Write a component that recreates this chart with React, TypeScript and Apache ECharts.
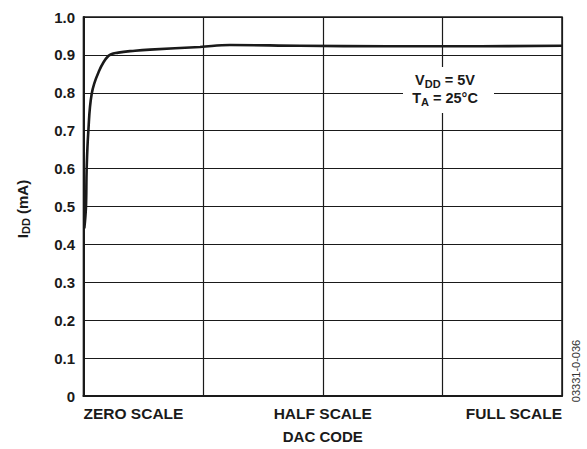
import React, { useEffect, useRef } from "react";
import * as echarts from "echarts";

const dacCodes = [7, 21, 27, 41, 70, 127, 212, 298, 441, 569, 997, 1254, 1853, 2600, 3400, 4096];
const iddValues = [0.442, 0.498, 0.598, 0.697, 0.797, 0.853, 0.897, 0.906, 0.911, 0.914, 0.921, 0.926, 0.924, 0.923, 0.923, 0.924];
const xTickLabels: Record<number, string> = { 0: "ZERO SCALE", 2048: "HALF SCALE", 4096: "FULL SCALE" };
const yTicks = [0, 0.1, 0.2, 0.3, 0.4, 0.5, 0.6, 0.7, 0.8, 0.9, 1.0];

const FONT = "'Liberation Sans', Arial, Helvetica, sans-serif";
const INK = "#1a1a1a";

export default function App() {
  const ref = useRef<HTMLDivElement>(null);
  useEffect(() => {
    if (!ref.current) return;
    const chart = echarts.init(ref.current, undefined, { renderer: "svg" });
    chart.setOption({
      animation: false,
      backgroundColor: "#fff",
      textStyle: { fontFamily: FONT },
      grid: {
        left: 83.5,
        width: 478.5,
        top: 17,
        height: 384.5,
        show: true,
        borderColor: INK,
        borderWidth: 1.5,
        backgroundColor: "transparent",
      },
      xAxis: {
        type: "value",
        min: 0,
        max: 4096,
        interval: 1024,
        axisLine: { show: true, lineStyle: { color: INK, width: 2 } },
        axisTick: { show: false },
        splitLine: { show: true, lineStyle: { color: INK, width: 1.2 } },
        axisLabel: {
          show: true,
          formatter: (v: number) => xTickLabels[v] ?? "",
          color: INK,
          fontWeight: "bold",
          fontSize: 15.5,
          fontFamily: FONT,
          margin: 9,
          alignMinLabel: "left",
          alignMaxLabel: "right",
        },
        name: "DAC CODE",
        nameLocation: "middle",
        nameGap: 33,
        nameTextStyle: { color: INK, fontWeight: "bold", fontSize: 15, fontFamily: FONT },
      },
      yAxis: {
        type: "value",
        min: 0,
        max: 1.0,
        interval: 0.1,
        axisLine: { show: true, lineStyle: { color: INK, width: 2 } },
        axisTick: { show: false },
        splitLine: { show: true, lineStyle: { color: INK, width: 1.2 } },
        axisLabel: {
          color: INK,
          fontWeight: "bold",
          fontSize: 15,
          fontFamily: FONT,
          margin: 8.5,
          formatter: (v: number) => {
            const t = yTicks.find((y) => Math.abs(y - v) < 1e-6);
            if (t === undefined) return "";
            return t === 0 ? "0" : t.toFixed(1);
          },
        },
      },
      series: [
        {
          type: "line",
          data: dacCodes.map((c, i) => [c, iddValues[i]]),
          smooth: 0.4,
          showSymbol: false,
          lineStyle: { color: INK, width: 2.6 },
          z: 5,
        },
      ],
      graphic: [
        {
          type: "rect",
          shape: { x: 403, y: 67, width: 91, height: 46 },
          style: { fill: "#fff" },
          z: 10,
        },
        {
          type: "text",
          x: 445,
          y: 89,
          z: 11,
          style: {
            text: "{n|V}{s|DD}{n| = 5V}\n{n|T}{s|A}{n| = 25°C}",
            align: "center",
            verticalAlign: "middle",
            fill: INK,
            lineHeight: 18,
            rich: {
              n: { fontSize: 14.5, fontWeight: "bold", fontFamily: FONT, fill: INK, lineHeight: 18 },
              s: { fontSize: 11, fontWeight: "bold", fontFamily: FONT, fill: INK, padding: [7, 0, 0, 0], lineHeight: 18 },
            },
          },
        },
        {
          type: "text",
          x: 22,
          y: 209,
          rotation: Math.PI / 2,
          z: 11,
          style: {
            text: "{n|I}{s|DD}{n| (mA)}",
            align: "center",
            verticalAlign: "middle",
            fill: INK,
            rich: {
              n: { fontSize: 15, fontWeight: "bold", fontFamily: FONT, fill: INK },
              s: { fontSize: 11, fontWeight: "bold", fontFamily: FONT, fill: INK, padding: [7, 0, 0, 0] },
            },
          },
        },
        {
          type: "text",
          x: 576,
          y: 371,
          rotation: Math.PI / 2,
          z: 11,
          style: {
            text: "03331-0-036",
            align: "center",
            verticalAlign: "middle",
            fill: "#333",
            fontSize: 11,
            fontFamily: FONT,
          },
        },
      ],
    });
    return () => chart.dispose();
  }, []);
  return <div ref={ref} style={{ width: 587, height: 449, position: "absolute", left: 0, top: 0 }} />;
}
